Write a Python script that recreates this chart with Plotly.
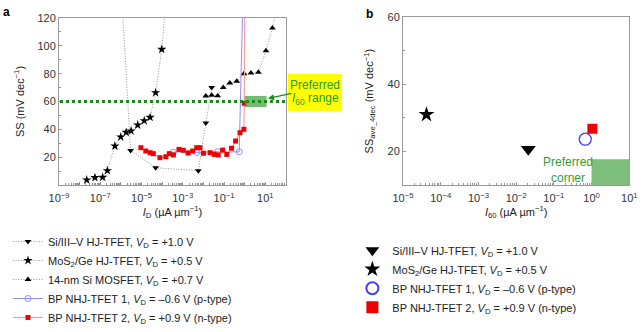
import plotly.graph_objects as go

# ---------------- data: panel a ----------------
star_x = [2.2e-8, 5.5e-8, 1.3e-7, 2.2e-7, 5.1e-7, 9.8e-7, 1.8e-6, 3.1e-6, 6.5e-6, 1.35e-5, 2.6e-5, 4.8e-5, 9.5e-5, 1.6e-4]
star_y = [3.6, 5.3, 5.5, 10.3, 28, 34.5, 37.8, 38.8, 43.1, 46.2, 48.6, 66.3, 97.5, 135]

tdn_x = [8.7e-7, 2.95e-6, 4.8e-5, 5.6e-3, 1.3e-2, 2.5e-2]
tdn_y = [160, 24.7, 12.4, 10.3, 44.5, 70]

tup_x = [1.3e-2, 2.5e-2, 4.9e-2, 9.1e-2, 0.19, 0.41, 0.91, 2.0, 4.6, 10.7, 22, 40]
tup_y = [63.9, 64.5, 64.2, 70, 73.3, 74.5, 80, 80.5, 81, 96.5, 112.8, 130]

red_x = [9.3e-6, 1.6e-5, 2.6e-5, 3.7e-5, 7.8e-5, 1.5e-4, 2.2e-4, 3.5e-4, 6.5e-4, 1.05e-3, 1.8e-3,
         3.0e-3, 4.7e-3, 6.8e-3, 1.0e-2, 2.1e-2, 3.3e-2, 5.2e-2, 8.5e-2, 0.135, 0.23, 0.36, 0.59,
         0.91, 0.95]
red_y = [26.8, 24.4, 23.2, 22.5, 19.6, 20.3, 22.5, 21.6, 25.6, 24.9, 23, 24.4, 26.8, 26.8, 22.8,
         23.2, 22, 21.6, 25.1, 22, 26.4, 31.6, 37.6, 40, 58.7]
red_line_x = red_x + [1.07]
red_line_y = red_y + [250]

blue_x = [2.4e-4, 3.5e-4, 1.0e-3, 2.5e-3, 4.7e-3, 1.0e-2, 2.5e-2, 4.9e-2, 0.1, 0.25, 0.54, 0.79]
blue_y = [23, 23.6, 24, 24.5, 23.4, 23.5, 24.2, 23.9, 23.5, 23.8, 23.9, 125]
blue_mk_x = [3.5e-4, 4.7e-3, 4.9e-2, 0.54]
blue_mk_y = [23.6, 23.4, 23.9, 23.9]

# ---------------- data: panel b ----------------
b_star = (4.2e-5, 31)
b_tdn = (0.021, 20.7)
b_circ = (0.68, 23.7)
b_sq = (1.05, 26.8)

# tick labels
a_xtickvals = [1e-9, 1e-8, 1e-7, 1e-6, 1e-5, 1e-4, 1e-3, 1e-2, 1e-1, 1, 10, 100]
a_xticktext = ["10<sup>−9</sup>", "", "10<sup>−7</sup>", "", "10<sup>−5</sup>", "", "10<sup>−3</sup>", "",
               "10<sup>−1</sup>", "", "10<sup>1</sup>", ""]
a_ytickvals = [20, 40, 60, 80, 100, 120]
b_xtickvals = [1e-5, 1e-4, 1e-3, 1e-2, 1e-1, 1, 10]
b_xticktext = ["10<sup>−5</sup>", "10<sup>−4</sup>", "10<sup>−3</sup>", "10<sup>−2</sup>",
               "10<sup>−1</sup>", "10<sup>0</sup>", "10<sup>1</sup>"]
b_ytickvals = [20, 40, 60]

VD = "<i>V</i><sub>D</sub>"
names = [
    f"Si/III–V HJ-TFET, {VD} = +1.0 V",
    f"MoS<sub>2</sub>/Ge HJ-TFET, {VD} = +0.5 V",
    f"14-nm Si MOSFET, {VD} = +0.7 V",
    f"BP NHJ-TFET 1, {VD} = –0.6 V (p-type)",
    f"BP NHJ-TFET 2, {VD} = +0.9 V (n-type)",
]

GREY = "#8a8a8a"
BLUE_L = "#8c8cff"
RED_L = "#ff9a9a"
FONT = "Liberation Sans, Arial, sans-serif"

fig = go.Figure()

dline = dict(color=GREY, width=0.9, dash="1px,1.6px")
# panel a traces
fig.add_trace(go.Scatter(x=tdn_x, y=tdn_y, mode="lines+markers", line=dline,
                         marker=dict(symbol="triangle-down", size=6, color="black"),
                         name=names[0], legend="legend", xaxis="x", yaxis="y"))
fig.add_trace(go.Scatter(x=star_x, y=star_y, mode="lines+markers", line=dline,
                         marker=dict(symbol="star", size=7, color="black"),
                         name=names[1], legend="legend", xaxis="x", yaxis="y"))
fig.add_trace(go.Scatter(x=tup_x, y=tup_y, mode="lines+markers", line=dline,
                         marker=dict(symbol="triangle-up", size=6, color="black"),
                         name=names[2], legend="legend", xaxis="x", yaxis="y"))
fig.add_trace(go.Scatter(x=blue_x, y=blue_y, mode="lines", line=dict(color=BLUE_L, width=1),
                         showlegend=False, xaxis="x", yaxis="y"))
fig.add_trace(go.Scatter(x=blue_mk_x, y=blue_mk_y, mode="markers",
                         marker=dict(symbol="circle-open", size=6, color=BLUE_L, line=dict(width=1)),
                         showlegend=False, xaxis="x", yaxis="y"))
fig.add_trace(go.Scatter(x=[None], y=[None], mode="lines+markers", line=dict(color=BLUE_L, width=1),
                         marker=dict(symbol="circle-open", size=6, color=BLUE_L, line=dict(width=1)),
                         name=names[3], legend="legend", xaxis="x", yaxis="y"))
fig.add_trace(go.Scatter(x=red_line_x, y=red_line_y, mode="lines", line=dict(color=RED_L, width=1.2),
                         showlegend=False, xaxis="x", yaxis="y"))
fig.add_trace(go.Scatter(x=red_x, y=red_y, mode="markers",
                         marker=dict(symbol="square", size=5, color="#ee0000"),
                         showlegend=False, xaxis="x", yaxis="y"))
fig.add_trace(go.Scatter(x=[None], y=[None], mode="lines+markers", line=dict(color=RED_L, width=1.2),
                         marker=dict(symbol="square", size=5, color="#ee0000"),
                         name=names[4], legend="legend", xaxis="x", yaxis="y"))

# panel b traces
fig.add_trace(go.Scatter(x=[b_tdn[0]], y=[b_tdn[1]], mode="markers",
                         marker=dict(symbol="triangle-down", size=13, color="black"),
                         name=names[0], legend="legend2", xaxis="x2", yaxis="y2"))
fig.add_trace(go.Scatter(x=[b_star[0]], y=[b_star[1]], mode="markers",
                         marker=dict(symbol="star", size=12, color="black"),
                         name=names[1], legend="legend2", xaxis="x2", yaxis="y2"))
fig.add_trace(go.Scatter(x=[b_circ[0]], y=[b_circ[1]], mode="markers",
                         marker=dict(symbol="circle-open", size=12, color="#4040ff", line=dict(width=1.3)),
                         name=names[3], legend="legend2", xaxis="x2", yaxis="y2"))
fig.add_trace(go.Scatter(x=[b_sq[0]], y=[b_sq[1]], mode="markers",
                         marker=dict(symbol="square", size=10, color="#ee0000"),
                         name=names[4], legend="legend2", xaxis="x2", yaxis="y2"))

tickfont = dict(family=FONT, size=11, color="#333")
axcommon = dict(showline=True, linecolor="#999", linewidth=1, mirror=True, ticks="inside",
                tickcolor="#999", tickfont=tickfont, showgrid=False, zeroline=False)

fig.update_layout(
    width=643, height=332, margin=dict(l=0, r=0, t=0, b=0, autoexpand=False),
    paper_bgcolor="white", plot_bgcolor="white",
    font=dict(family=FONT, size=11, color="#222"),
    xaxis=dict(type="log", range=[-9, 2], domain=[0.0918, 0.4448], anchor="y",
               tickvals=a_xtickvals, ticktext=a_xticktext, ticklen=3, ticklabelstandoff=3,
               minor=dict(ticks="inside", ticklen=2, tickcolor="#999", dtick="D1"),
               title=dict(text="<i>I</i><sub>D</sub> (µA µm<sup>−1</sup>)", font=dict(size=11), standoff=4),
               **axcommon),
    yaxis=dict(range=[0, 120], domain=[0.4428, 0.9458], anchor="x",
               tickvals=a_ytickvals, ticklen=3,
               minor=dict(ticks="inside", ticklen=2, tickcolor="#999", dtick=10),
               title=dict(text="SS (mV dec<sup>−1</sup>)", font=dict(size=11), standoff=10),
               **axcommon),
    xaxis2=dict(type="log", range=[-5, 1], domain=[0.6267, 0.9787], anchor="y2",
                tickvals=b_xtickvals, ticktext=b_xticktext, ticklen=3, ticklabelstandoff=3,
                minor=dict(ticks="inside", ticklen=2, tickcolor="#999", dtick="D1"),
                title=dict(text="<i>I</i><sub>60</sub> (µA µm<sup>−1</sup>)", font=dict(size=11), standoff=4),
                **axcommon),
    yaxis2=dict(range=[10, 60], domain=[0.4419, 0.9488], anchor="x2",
                tickvals=b_ytickvals, ticklen=3,
                minor=dict(ticks="inside", ticklen=2, tickcolor="#999", dtick=10),
                title=dict(text="SS<sub>ave_4dec</sub> (mV dec<sup>−1</sup>)", font=dict(size=11), standoff=11),
                **axcommon),
    legend=dict(x=0.0124, y=0.0, xanchor="left", yanchor="bottom", bgcolor="rgba(0,0,0,0)",
                font=dict(family=FONT, size=11, color="#222"), itemwidth=30, tracegroupgap=0),
    legend2=dict(x=0.548, y=0.29, xanchor="left", yanchor="top", bgcolor="rgba(0,0,0,0)",
                 font=dict(family=FONT, size=11, color="#222"), itemwidth=30, tracegroupgap=0,
                 itemsizing="constant"),
    showlegend=True,
)

# shapes panel a
fig.add_shape(type="rect", xref="x", yref="y", x0=1, x1=11.5, y0=56, y1=64,
              fillcolor="rgba(70,165,70,0.75)", line=dict(width=0), layer="above")
fig.add_shape(type="line", xref="paper", yref="y", x0=60/643, x1=288/643, y0=60, y1=60,
              line=dict(color="#1a8a1a", width=3, dash="dot"), layer="above")
fig.add_shape(type="rect", xref="paper", yref="paper", x0=288/643, x1=342/643,
              y0=1-111/332, y1=1-74/332, fillcolor="#ffff00", line=dict(width=0), layer="below")
fig.add_annotation(xref="paper", yref="paper", x=315/643, y=1-85/332, showarrow=False,
                   xanchor="center", yanchor="middle", text="Preferred",
                   font=dict(family=FONT, size=12, color="#2a9a2a"))
fig.add_annotation(xref="paper", yref="paper", x=315/643, y=1-99/332, showarrow=False,
                   xanchor="center", yanchor="middle", text="<i>I</i><sub>60</sub> range",
                   font=dict(family=FONT, size=12, color="#2a9a2a"))
fig.add_annotation(xref="paper", yref="paper", x=268/643, y=1-98.5/332,
                   ax=25, ay=-5.5, axref="pixel", ayref="pixel",
                   showarrow=True, arrowhead=2, arrowsize=1, arrowwidth=1.2, arrowcolor="#1a8a1a", text="")

# shapes panel b
fig.add_shape(type="rect", xref="x2", yref="y2", x0=1, x1=10, y0=10, y1=17.7,
              fillcolor="rgb(125,190,125)", line=dict(width=0), layer="above")
fig.add_annotation(xref="paper", yref="paper", x=568/643, y=1-170.5/332, showarrow=False,
                   xanchor="center", yanchor="middle", text="Preferred<br>corner", align="center",
                   font=dict(family=FONT, size=12, color="#3a9a3a"))

# panel labels
fig.add_annotation(xref="paper", yref="paper", x=6.5/643, y=1-12/332, showarrow=False,
                   xanchor="center", yanchor="middle",
                   text="<b>a</b>", font=dict(family=FONT, size=12, color="black"))
fig.add_annotation(xref="paper", yref="paper", x=369/643, y=1-14/332, showarrow=False,
                   xanchor="center", yanchor="middle",
                   text="<b>b</b>", font=dict(family=FONT, size=12, color="black"))

fig.write_html("out.html")
